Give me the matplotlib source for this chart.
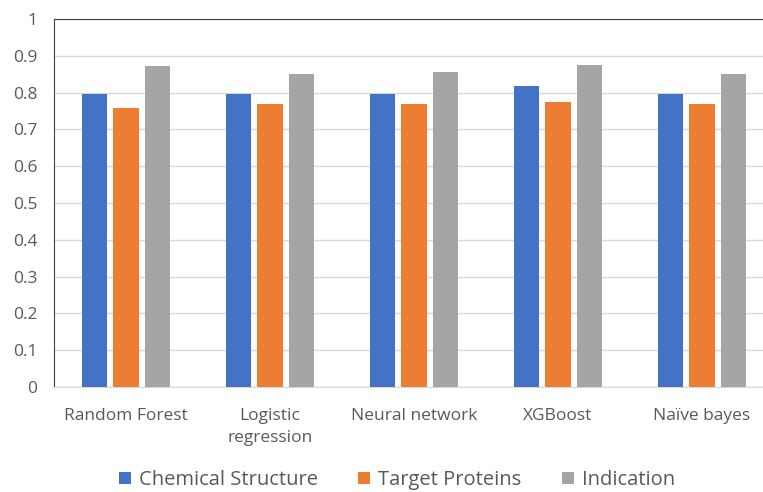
import matplotlib.pyplot as plt
import numpy as np

# Datos
modelos = ["Random Forest", "Logistic\nregression", "Neural network", "XGBoost", "Naïve bayes"]
chemical = [0.797, 0.795, 0.795, 0.819, 0.797]
target = [0.759, 0.770, 0.770, 0.774, 0.770]
indication = [0.871, 0.850, 0.857, 0.875, 0.850]

plt.rcParams["font.family"] = ["Open Sans", "DejaVu Sans"]

fig = plt.figure(figsize=(7.63, 4.92), dpi=100)
ax = fig.add_axes([54 / 763, 105 / 492, 720 / 763, 368 / 492])

x = np.arange(len(modelos))
ancho = 0.174
paso = 0.222
ax.bar(x - paso, chemical, ancho, color="#4472C4", label="Chemical Structure", zorder=3)
ax.bar(x, target, ancho, color="#ED7D31", label="Target Proteins", zorder=3)
ax.bar(x + paso, indication, ancho, color="#A5A5A5", label="Indication", zorder=3)

ax.set_xlim(-0.5, len(modelos) - 0.5)
ax.set_ylim(0, 1)
ax.set_yticks(np.arange(0, 1.01, 0.1))
ax.set_yticklabels(["0"] + [f"{v:.1f}" for v in np.arange(0.1, 1.0, 0.1)] + ["1"])
ax.set_xticks(x)
ax.set_xticklabels(modelos, fontsize=12.5, color="#595959", linespacing=1.5)
ax.tick_params(axis="y", labelsize=12.5, labelcolor="#595959", length=0, pad=12)
ax.tick_params(axis="x", length=0, pad=15)
ax.grid(axis="y", color="#D9D9D9", linewidth=1, zorder=0)

ax.spines["right"].set_visible(False)
ax.spines["bottom"].set_color("#D9D9D9")
ax.spines["left"].set_color("#404040")
ax.spines["top"].set_color("#404040")

fig.legend(loc="center", bbox_to_anchor=(0.52, 0.024), ncol=3, frameon=False,
           fontsize=14.5, handlelength=0.6, handleheight=0.6, columnspacing=2.0,
           handletextpad=0.4, labelcolor="#595959")

fig.savefig("out.png", dpi=100)
